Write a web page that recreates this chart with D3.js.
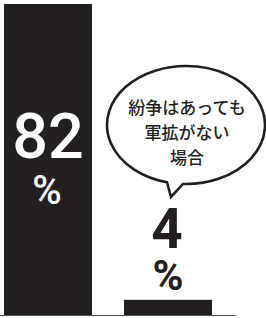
<!DOCTYPE html>
<html><head><meta charset="utf-8">
<script src="https://cdn.jsdelivr.net/npm/d3@7/dist/d3.min.js"></script>
<style>html,body{margin:0;padding:0;background:#fff;}svg{display:block;}</style>
</head><body>
<script>
const categories = ["軍拡あり", "紛争はあっても軍拡がない場合"];
const values = [82, 4];
const valueLabels = ["82", "4"];
const unitLabel = "%";
const bubbleLines = ["紛争はあっても", "軍拡がない", "場合"];

const W = 266, H = 318;
const ink = "#231f20";
const svg = d3.select("body").append("svg").attr("width", W).attr("height", H);

const x = d3.scaleBand().domain(categories).range([4, 212]).paddingInner(0.2667).paddingOuter(0);
const y = d3.scaleLinear().domain([0, 82]).range([315, 4]);

svg.selectAll("rect.bar").data(values).join("rect")
  .attr("class", "bar")
  .attr("x", (d, i) => x(categories[i]))
  .attr("width", x.bandwidth())
  .attr("y", d => y(d))
  .attr("height", d => y(0) - y(d))
  .attr("fill", ink);

// baseline axis
const axis = d3.axisBottom(x).tickSize(0).tickFormat("");
const ag = svg.append("g").attr("transform", `translate(0,${y(0) + 0.5})`).call(axis);
ag.select(".domain").attr("d", "M0,0H236").attr("stroke", "#555").attr("stroke-width", 1);

// value labels: number + unit stacked in one text element
const cx0 = x(categories[0]) + x.bandwidth() / 2;
const cx1 = x(categories[1]) + x.bandwidth() / 2;

const t0 = svg.append("text").attr("text-anchor", "middle")
  .attr("font-family", "Roboto").attr("font-weight", 500).attr("fill", "#fff");
t0.append("tspan").attr("x", cx0).attr("y", 158).attr("font-size", 63).text(valueLabels[0]);
t0.append("tspan").attr("x", cx0 - 1).attr("y", 204).attr("font-size", 40).text(unitLabel);

const t1 = svg.append("text").attr("text-anchor", "middle")
  .attr("font-family", "Roboto").attr("font-weight", 700).attr("fill", ink);
t1.append("tspan").attr("x", cx1 - 1).attr("y", 248).attr("font-size", 55).text(valueLabels[1]);
t1.append("tspan").attr("x", cx1).attr("y", 290).attr("font-size", 42).text(unitLabel);

// speech bubble
const ecx = 186, ecy = 125, rx = 79, ry = 59;
const ey = xx => ecy + ry * Math.sqrt(1 - Math.pow((xx - ecx) / rx, 2));
const lx = 167, rX = 183;
svg.append("path").attr("d", `M${lx},${ey(lx)} L171,197 L${rX},${ey(rX)} A${rx},${ry} 0 1 0 ${lx},${ey(lx)} Z`)
  .attr("fill", "#fff").attr("stroke", ink).attr("stroke-width", 2.6).attr("stroke-linejoin", "miter");

svg.append("g").selectAll("text").data(bubbleLines).join("text")
  .attr("x", 187).attr("y", (d, i) => 114 + i * 25)
  .attr("text-anchor", "middle")
  .attr("font-family", "Noto Sans CJK JP").attr("font-weight", 500).attr("font-size", 17)
  .attr("fill", ink).text(d => d);
</script>
</body></html>
